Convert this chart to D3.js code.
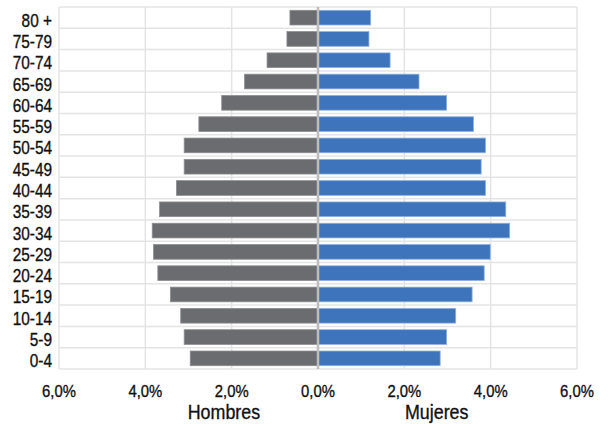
<!DOCTYPE html>
<html>
<head>
<meta charset="utf-8">
<script src="https://cdn.jsdelivr.net/npm/d3@7"></script>
<style>
  html, body { margin: 0; padding: 0; background: #ffffff; }
  svg { display: block; }
  text { font-family: "Liberation Sans", Arial, sans-serif; fill: #111; stroke: #111; stroke-width: 0.35px; }
</style>
</head>
<body>
<svg id="chart" width="608" height="424"></svg>
<script>
const categories = ["80 +","75-79","70-74","65-69","60-64","55-59","50-54","45-49","40-44","35-39","30-34","25-29","20-24","15-19","10-14","5-9","0-4"];
const hombres = [0.65,0.72,1.18,1.70,2.23,2.76,3.10,3.10,3.28,3.67,3.84,3.81,3.71,3.42,3.18,3.10,2.96];
const mujeres = [1.22,1.18,1.67,2.34,2.98,3.60,3.88,3.78,3.88,4.35,4.44,3.99,3.85,3.57,3.19,2.98,2.83];
const tickValues = [-6,-4,-2,0,2,4,6];
const seriesNames = ["Hombres","Mujeres"];

const svg = d3.select("#chart");
const pLeft = 59, pRight = 577, pTop = 7, pBottom = 369;

const x = d3.scaleLinear().domain([-6, 6]).range([pLeft, pRight]);
const y = d3.scaleBand().domain(categories).range([pTop, pBottom]).paddingInner(0.31).paddingOuter(0.155);
const yGrid = d3.scaleBand().domain(categories).range([pTop, pBottom]);

const fmt = v => Math.abs(v).toFixed(1).replace(".", ",") + "%";

// grid
const g = svg.append("g");
g.selectAll("line.v").data(tickValues.filter(t => t !== 0)).join("line")
  .attr("x1", d => x(d)).attr("x2", d => x(d))
  .attr("y1", pTop).attr("y2", pBottom)
  .attr("stroke", "#e4e4e4").attr("stroke-width", 1.5);
const hLines = categories.map(c => yGrid(c)).concat([pBottom]);
g.selectAll("line.h").data(hLines).join("line")
  .attr("x1", pLeft).attr("x2", pRight)
  .attr("y1", d => d).attr("y2", d => d)
  .attr("stroke", "#e4e4e4").attr("stroke-width", 1.5);

// bars
svg.append("g").selectAll("rect").data(categories).join("rect")
  .attr("x", (d, i) => x(-hombres[i]))
  .attr("width", (d, i) => x(0) - x(-hombres[i]))
  .attr("y", d => y(d))
  .attr("height", y.bandwidth())
  .attr("fill", "#6b6c70")
  .attr("stroke", "#8d8e92").attr("stroke-width", 0.8);

svg.append("g").selectAll("rect").data(categories).join("rect")
  .attr("x", x(0))
  .attr("width", (d, i) => x(mujeres[i]) - x(0))
  .attr("y", d => y(d))
  .attr("height", y.bandwidth())
  .attr("fill", "#3d74bb")
  .attr("stroke", "#8fb0dc").attr("stroke-width", 0.8);

// center axis line
svg.append("line")
  .attr("x1", x(0)).attr("x2", x(0))
  .attr("y1", pTop).attr("y2", pBottom)
  .attr("stroke", "#bdbdbd").attr("stroke-width", 2.5);

// category labels (condensed via horizontal scale)
svg.append("g").selectAll("text").data(categories).join("text")
  .attr("transform", d => `translate(52,${yGrid(d) + yGrid.bandwidth() / 2 + 9}) scale(0.86,1)`)
  .attr("text-anchor", "end")
  .attr("font-size", 17.9)
  .text(d => d);

// x tick labels
svg.append("g").selectAll("text").data(tickValues).join("text")
  .attr("transform", d => `translate(${x(d)},396.5) scale(0.9,1)`)
  .attr("text-anchor", "middle")
  .attr("font-size", 16.5)
  .text(d => fmt(d));

// series titles
svg.append("text")
  .attr("transform", `translate(${x(-2.18)},419) scale(0.85,1)`)
  .attr("text-anchor", "middle")
  .attr("font-size", 21).text(seriesNames[0]);
svg.append("text")
  .attr("transform", `translate(${x(2.75)},419) scale(0.85,1)`)
  .attr("text-anchor", "middle")
  .attr("font-size", 21).text(seriesNames[1]);
</script>
</body>
</html>
